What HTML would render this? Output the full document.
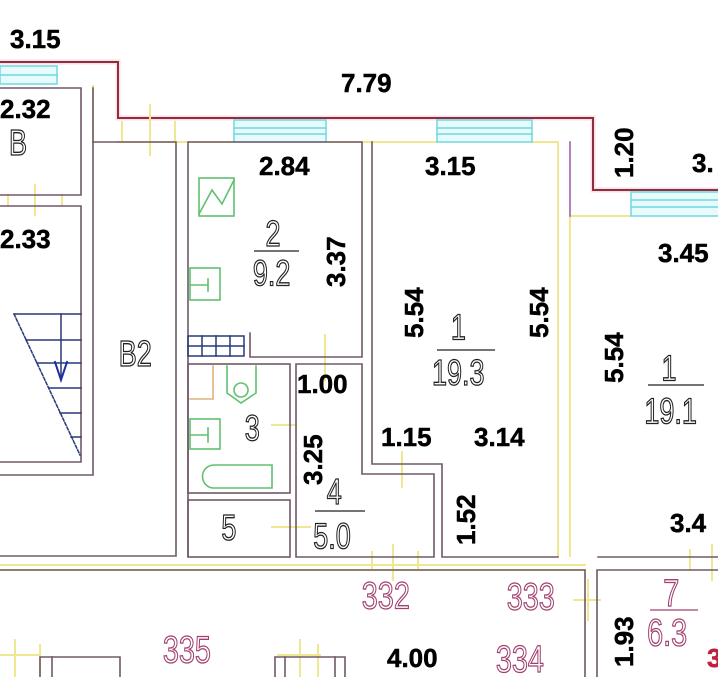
<!DOCTYPE html>
<html><head><meta charset="utf-8"><style>
html,body{margin:0;padding:0;background:#fff;}
svg{display:block}
.b{font-family:"Liberation Sans",sans-serif;font-weight:bold;font-size:26px;fill:#000;stroke:#000;stroke-width:0.5}
.t{font-family:"Liberation Sans",sans-serif;font-size:30px;fill:#fff;stroke:#222;stroke-width:1.1}
.p{font-family:"Liberation Sans",sans-serif;font-size:32px;fill:#fff;stroke:#a04070;stroke-width:1.1}
</style></head><body>
<svg width="718" height="677" viewBox="0 0 718 677" xmlns="http://www.w3.org/2000/svg">
<g fill="none" stroke-linecap="square">
<polyline points="0,62 118,62 118,118 593,118 593,190 718,190" stroke="#f8c0c8" stroke-width="5" opacity="0.5"/>
<polyline points="0,62 118,62 118,118 593,118 593,190 718,190" stroke="#8a3040" stroke-width="2"/>
<g stroke="#f0e890" stroke-width="2">
<line x1="118" y1="142" x2="234" y2="142"/><line x1="326" y1="142" x2="437" y2="142"/><line x1="532" y1="142" x2="558" y2="142"/>
<line x1="558" y1="142" x2="558" y2="556"/><line x1="570" y1="216" x2="570" y2="556"/>
<line x1="570" y1="216" x2="630" y2="216"/>
<line x1="0" y1="565" x2="585" y2="565"/><line x1="0" y1="570" x2="585" y2="570"/>
<line x1="93" y1="86" x2="93" y2="142"/>
<line x1="150" y1="105" x2="150" y2="155"/><line x1="122" y1="122" x2="122" y2="140"/><line x1="175" y1="122" x2="175" y2="140"/>
<line x1="35" y1="185" x2="35" y2="215"/><line x1="8" y1="195" x2="8" y2="205"/><line x1="62" y1="195" x2="62" y2="205"/>
<line x1="325" y1="335" x2="325" y2="380"/>
<line x1="272" y1="425" x2="296" y2="425"/><line x1="272" y1="527" x2="310" y2="527"/>
<line x1="402" y1="452" x2="402" y2="487"/>
<line x1="393" y1="545" x2="393" y2="580"/><line x1="372" y1="552" x2="372" y2="570"/><line x1="418" y1="552" x2="418" y2="570"/>
<line x1="574" y1="600" x2="600" y2="600"/><line x1="588" y1="580" x2="588" y2="620"/>
<line x1="712" y1="545" x2="712" y2="580"/><line x1="690" y1="550" x2="690" y2="570"/>
<line x1="15" y1="640" x2="15" y2="677"/><line x1="0" y1="655" x2="40" y2="655"/><line x1="40" y1="645" x2="40" y2="677"/>
<line x1="300" y1="640" x2="300" y2="677"/><line x1="278" y1="655" x2="320" y2="655"/><line x1="318" y1="645" x2="318" y2="677"/>
</g>
<g stroke="#70d8e0" stroke-width="1.5">
<rect x="0" y="66" width="57" height="18" fill="#e8fbfc"/><line x1="0" y1="75" x2="57" y2="75"/>
<rect x="234" y="120" width="92" height="22" fill="#e8fbfc"/><line x1="234" y1="128" x2="326" y2="128"/><line x1="234" y1="134" x2="326" y2="134"/>
<rect x="437" y="120" width="95" height="22" fill="#e8fbfc"/><line x1="437" y1="128" x2="532" y2="128"/><line x1="437" y1="134" x2="532" y2="134"/>
<rect x="631" y="192" width="90" height="24" fill="#e8fbfc"/><line x1="631" y1="200" x2="720" y2="200"/><line x1="631" y1="207" x2="720" y2="207"/>
</g>
<g stroke="#705868" stroke-width="1.6">
<polyline points="0,88 81,88 81,195 0,195"/>
<polyline points="0,206 81,206 81,462 0,462"/>
<polyline points="93,88 93,475 0,475"/>
<polyline points="93,142 176,142 176,556 0,556"/>
<polyline points="188,556 188,142 362,142 362,357 250,357 250,333"/>
<rect x="188" y="364" width="102" height="129"/>
<rect x="188" y="500" width="102" height="57"/>
<polyline points="296,557 296,364 362,364 362,474 434,474 434,557 296,557"/>
<polyline points="372,142 372,464 442,464 442,557 558,557"/>
<polyline points="570,142 570,216" stroke="#a060b0"/>
<line x1="598" y1="557" x2="718" y2="557"/>
<polyline points="597,677 597,570 718,570"/>
<polyline points="0,570 585,570 585,677"/>
<polyline points="40,677 40,657 120,657 120,677"/><line x1="52" y1="657" x2="52" y2="677"/>
<polyline points="275,677 275,657 345,657 345,677"/><line x1="285" y1="657" x2="285" y2="677"/><line x1="335" y1="657" x2="335" y2="677"/>
</g>
<g stroke="#283878" stroke-width="1.5">
<line x1="14" y1="314" x2="81" y2="314"/>
<line x1="14" y1="314" x2="80" y2="455" stroke-dasharray="3,2"/>
<line x1="26" y1="340" x2="81" y2="340"/><line x1="37" y1="363" x2="81" y2="363"/>
<line x1="49" y1="388" x2="81" y2="388"/><line x1="60" y1="413" x2="81" y2="413"/><line x1="71" y1="437" x2="81" y2="437"/>
<line x1="61" y1="314" x2="61" y2="378"/>
<path d="M55,362 L61,380 L67,362" stroke="#2030a0" stroke-width="2"/>
</g>
<g stroke="#283878" stroke-width="1.5">
<rect x="188" y="336" width="56" height="20"/><line x1="188" y1="346" x2="244" y2="346"/>
<line x1="202" y1="336" x2="202" y2="356"/><line x1="216" y1="336" x2="216" y2="356"/><line x1="230" y1="336" x2="230" y2="356"/>
</g>
<g stroke="#60c070" stroke-width="1.6">
<rect x="199" y="178" width="35" height="38"/><polyline points="199,214 212,190 222,204 234,180"/>
<rect x="190" y="268" width="30" height="32"/><line x1="190" y1="285" x2="208" y2="285"/><line x1="208" y1="279" x2="208" y2="291"/>
<rect x="190" y="419" width="30" height="30"/><line x1="190" y1="435" x2="208" y2="435"/><line x1="208" y1="428" x2="208" y2="442"/>
<path d="M227,366 L227,393 L241,403 L256,393 L256,366"/><circle cx="241" cy="390" r="7"/>
<path d="M214,465 L272,465 L272,488 L214,488 A11.5,11.5 0 0 1 214,465 Z"/>
</g>
<polyline points="190,399 213,399 213,366" stroke="#e0b080" stroke-width="1.6"/>
</g>
<text class="b" x="10" y="48">3.15</text>
<text class="b" x="341" y="92">7.79</text>
<text class="b" x="0" y="118">2.32</text>
<text class="b" x="0" y="248">2.33</text>
<text class="b" x="259" y="175">2.84</text>
<text class="b" x="425" y="175">3.15</text>
<text class="b" x="658" y="262">3.45</text>
<text class="b" x="692" y="172">3.</text>
<text class="b" x="297" y="393">1.00</text>
<text class="b" x="381" y="446">1.15</text>
<text class="b" x="474" y="446">3.14</text>
<text class="b" x="670" y="532">3.4</text>
<text class="b" x="387" y="667">4.00</text>
<text class="b" transform="translate(345,287) rotate(-90)">3.37</text>
<text class="b" transform="translate(633,178) rotate(-90)">1.20</text>
<text class="b" transform="translate(423,338) rotate(-90)">5.54</text>
<text class="b" transform="translate(548,338) rotate(-90)">5.54</text>
<text class="b" transform="translate(623,383) rotate(-90)">5.54</text>
<text class="b" transform="translate(322,485) rotate(-90)">3.25</text>
<text class="b" transform="translate(475,545) rotate(-90)">1.52</text>
<text class="b" transform="translate(633,667) rotate(-90)">1.93</text>
<g transform="scale(1,1.2)">
<text class="t" x="10" y="129" transform="scale(0.9,1)">В</text>
<text class="t" x="132" y="305" transform="scale(0.9,1)">В2</text>
<text class="t" x="295" y="205" transform="scale(0.9,1)">2</text>
<text class="t" x="281" y="238" transform="scale(0.9,1)">9.2</text>
<text class="t" x="501" y="283" transform="scale(0.9,1)">1</text>
<text class="t" x="480" y="321" transform="scale(0.9,1)">19.3</text>
<text class="t" x="735" y="317" transform="scale(0.9,1)">1</text>
<text class="t" x="716" y="353" transform="scale(0.9,1)">19.1</text>
<text class="t" x="272" y="367" transform="scale(0.9,1)">3</text>
<text class="t" x="363" y="420" transform="scale(0.9,1)">4</text>
<text class="t" x="348" y="457" transform="scale(0.9,1)">5.0</text>
<text class="t" x="246" y="450" transform="scale(0.9,1)">5</text>
<text class="p" x="402" y="507" transform="scale(0.9,1)">332</text>
<text class="p" x="563" y="508" transform="scale(0.9,1)">333</text>
<text class="p" x="181" y="552" transform="scale(0.9,1)">335</text>
<text class="p" x="551" y="560" transform="scale(0.9,1)">334</text>
<text class="p" x="737" y="505" transform="scale(0.9,1)">7</text>
<text class="p" x="719" y="538" transform="scale(0.9,1)">6.3</text>
</g>
<line x1="254" y1="251" x2="299" y2="251" stroke="#222" stroke-width="1.2"/>
<line x1="437" y1="350" x2="495" y2="350" stroke="#222" stroke-width="1.2"/>
<line x1="648" y1="385" x2="704" y2="385" stroke="#222" stroke-width="1.2"/>
<line x1="315" y1="511" x2="365" y2="511" stroke="#222" stroke-width="1.2"/>
<line x1="650" y1="610" x2="698" y2="610" stroke="#a04070" stroke-width="1.2"/>
<text class="b" x="707" y="667" style="fill:#c02040;stroke:#c02040">3</text>
</svg>
</body></html>
